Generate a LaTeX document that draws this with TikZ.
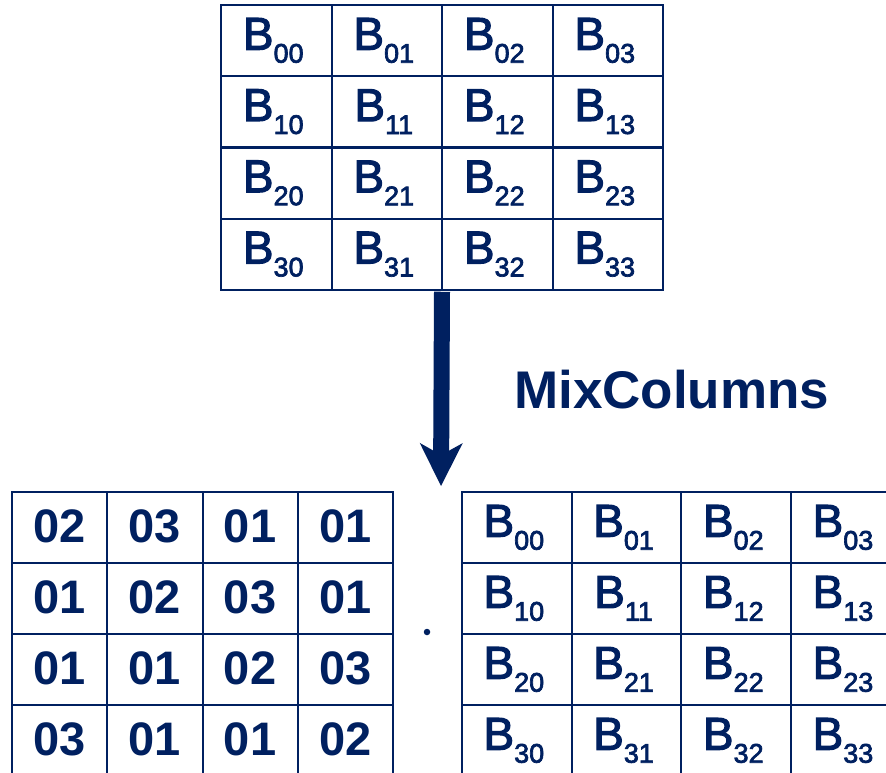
\documentclass[tikz,border=0pt]{standalone}
\usepackage{fontspec}
\setmainfont{Liberation Sans}
\newfontfamily\bfont[FakeBold=2.5]{Liberation Sans}
\usetikzlibrary{arrows.meta}
\definecolor{navy}{HTML}{002060}
\newcommand\bsub[1]{B\raisebox{-13pt}{\fontsize{27}{27}\selectfont #1}\kern6pt}
\begin{document}
\begin{tikzpicture}[x=1pt,y=-1pt,
  cellbox/.style={draw=navy, line width=2pt, inner sep=0pt, outer sep=0pt,
    text=navy, anchor=north west},
  bcell/.style={cellbox, minimum width=#1, minimum height=71pt,
    font=\bfont\fontsize{46}{46}\selectfont},
  ncell/.style={cellbox, minimum width=95.25pt, minimum height=71pt,
    font=\fontsize{47}{47}\selectfont\bfseries}]
\useasboundingbox (0,0) rectangle (886,772);
\clip (0,0) rectangle (886,772);
% top grid
\foreach \r in {0,...,3}
  \foreach \c in {0,...,3}
    \node[bcell=110.5pt] (t\r\c) at ({221+110.5*\c},{5+71.25*\r}) {\bsub{\r\c}};
% bottom left grid
\foreach \v [count=\i from 0] in {02,03,01,01,01,02,03,01,01,01,02,03,03,01,01,02}{
  \pgfmathtruncatemacro\r{\i/4}
  \pgfmathtruncatemacro\c{mod(\i,4)}
  \node[ncell] (m\r\c) at ({12+95.25*\c},{492+71*\r}) {\raisebox{3pt}{\v}};
}
% bottom right grid
\foreach \r in {0,...,3}
  \foreach \c in {0,...,3}
    \node[bcell=109.7pt] (b\r\c) at ({462+109.7*\c},{492+71*\r}) {\bsub{\r\c}};
% arrow
\coordinate (aend) at (441,486);
\draw[navy, line width=16pt,
  -{Stealth[length=43pt,width=43pt,inset=12pt,line width=0pt]}]
  ([yshift=-2pt]t31.south east) -- (aend);
\node[anchor=base west, inner sep=0pt, text=navy,
  font=\fontsize{53}{53}\selectfont\bfseries] (lbl) at (514,408) {MixColumns};
% dot
\node[circle, fill=navy, inner sep=0pt, minimum size=6.5pt] (dot) at (427,632) {};
\end{tikzpicture}
\end{document}
